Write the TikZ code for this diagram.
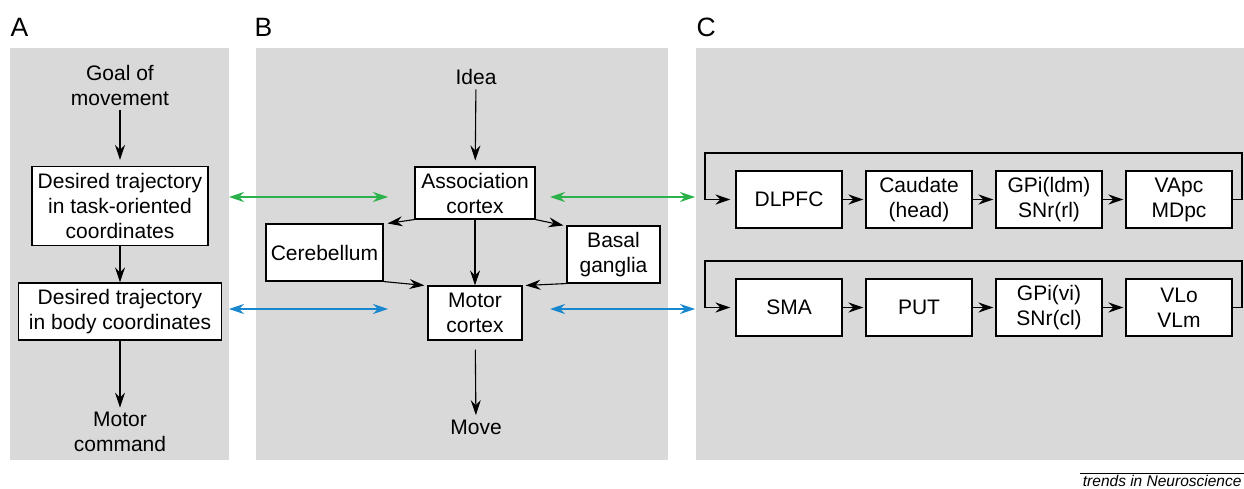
\documentclass[tikz,border=0pt]{standalone}
\usepackage{fontspec}
\setmainfont{Liberation Sans}
\usetikzlibrary{arrows.meta}
\definecolor{panelgray}{RGB}{217,217,217}
\definecolor{linkgreen}{RGB}{44,178,74}
\definecolor{linkblue}{RGB}{24,135,205}
\begin{document}
\begin{tikzpicture}[>={Stealth[length=15pt,width=10pt,inset=5pt]},x=1pt,y=-1pt,line width=1.1pt,
    font=\fontsize{21}{25}\selectfont,
    box/.style={draw,fill=white,align=center,inner sep=0pt},
    cbox/.style={box,minimum width=106pt,minimum height=57pt},
    txt/.style={align=center,inner sep=1pt},
    letter/.style={anchor=base west,inner sep=0pt,font=\fontsize{26.5}{30}\selectfont}]
    \def\rowa{199.5}
    \def\rowb{307.5}
    \useasboundingbox (0,0) rectangle (1244,489);
    \fill[panelgray] (10,48) rectangle (229,460);
    \fill[panelgray] (256,48) rectangle (668,460);
    \fill[panelgray] (696,48) rectangle (1244,460);
    \node[letter] (labA) at (10,37) {A};
    \node[letter] (labB) at (254,37) {B};
    \node[letter] (labC) at (696,37) {C};
    % A
    \node[txt] (goal) at (120,85) {Goal of\\movement};
    \node[box,minimum width=176pt,minimum height=79pt] (task) at (120,206) {Desired trajectory\\in task-oriented\\coordinates};
    \node[box,minimum width=203pt,minimum height=57pt] (body) at (120,311.5) {Desired trajectory\\in body coordinates};
    \node[txt] (cmd) at (120,432) {Motor\\command};
    \draw[->,shorten <=3pt,shorten >=6pt] (goal) -- (task);
    \draw[->] (task) -- (body);
    \draw[->,shorten >=3pt] (body) -- (cmd);
    % B
    \node[txt] (idea) at (476,77) {Idea};
    \node[box,minimum width=120pt,minimum height=52pt] (assoc) at (475,193) {Association\\cortex};
    \node[box,minimum width=117pt,minimum height=57pt] (cereb) at (324.5,252.5) {Cerebellum};
    \node[box,minimum width=93pt,minimum height=57pt] (basal) at (613.5,254.5) {Basal\\ganglia};
    \node[box,minimum width=94pt,minimum height=54pt] (motor) at (475,313) {Motor\\cortex};
    \node[txt] (move) at (476,427) {Move};
    \draw[->,shorten <=3pt,shorten >=6pt] (idea) -- (assoc);
    \draw[->] (assoc.south west) -- ([xshift=4pt]cereb.north east);
    \draw[->] (assoc.south east) -- ([xshift=-3pt]basal.north west);
    \draw[->] (assoc) -- (motor);
    \draw[->] (cereb.south east) -- ([xshift=-3pt]motor.north west);
    \draw[->] (basal.south west) -- ([xshift=3pt]motor.north east);
    \draw[->,shorten <=9pt,shorten >=3pt] (motor) -- (move);
    % links between panels
    \coordinate (gA) at (229,197);
    \coordinate (gB) at (388,197);
    \coordinate (gC) at (550,197);
    \coordinate (gD) at (695,197);
    \coordinate (bA) at (229,309);
    \coordinate (bB) at (388,309);
    \coordinate (bC) at (550,309);
    \coordinate (bD) at (695,309);
    \draw[<->,linkgreen] (gA) -- (gB);
    \draw[<->,linkgreen] (gC) -- (gD);
    \draw[<->,linkblue] (bA) -- (bB);
    \draw[<->,linkblue] (bC) -- (bD);
    % C
    \node[cbox] (dlpfc) at (789,\rowa) {DLPFC};
    \node[cbox] (caud) at (919,\rowa) {Caudate\\(head)};
    \node[cbox] (gpia) at (1049,\rowa) {GPi(ldm)\\SNr(rl)};
    \node[cbox] (vapc) at (1179,\rowa) {VApc\\MDpc};
    \node[cbox] (sma) at (789,\rowb) {SMA};
    \node[cbox] (put) at (919,\rowb) {PUT};
    \node[cbox] (gpib) at (1049,\rowb) {GPi(vi)\\SNr(cl)};
    \node[cbox] (vlo) at (1179,\rowb) {VLo\\VLm};
    \foreach \a/\b in {dlpfc/caud,caud/gpia,gpia/vapc,sma/put,put/gpib,gpib/vlo}
        \draw[->,shorten >=2pt] (\a) -- (\b);
    \draw[->,shorten >=5pt] (vapc.east) -| (1242,153) -| (705,\rowa) -- (dlpfc.west);
    \draw[->,shorten >=5pt] (vlo.east) -| (1242,261) -| (705,\rowb) -- (sma.west);
    % source
    \coordinate (srcl) at (1080,473);
    \coordinate (srcr) at (1244,473);
    \draw[line width=0.7pt] (srcl) -- (srcr);
    \node[anchor=base east,inner sep=0pt,font=\fontsize{15.5}{18}\selectfont\itshape] (src) at (1242,486) {trends in Neuroscience};
\end{tikzpicture}
\end{document}
